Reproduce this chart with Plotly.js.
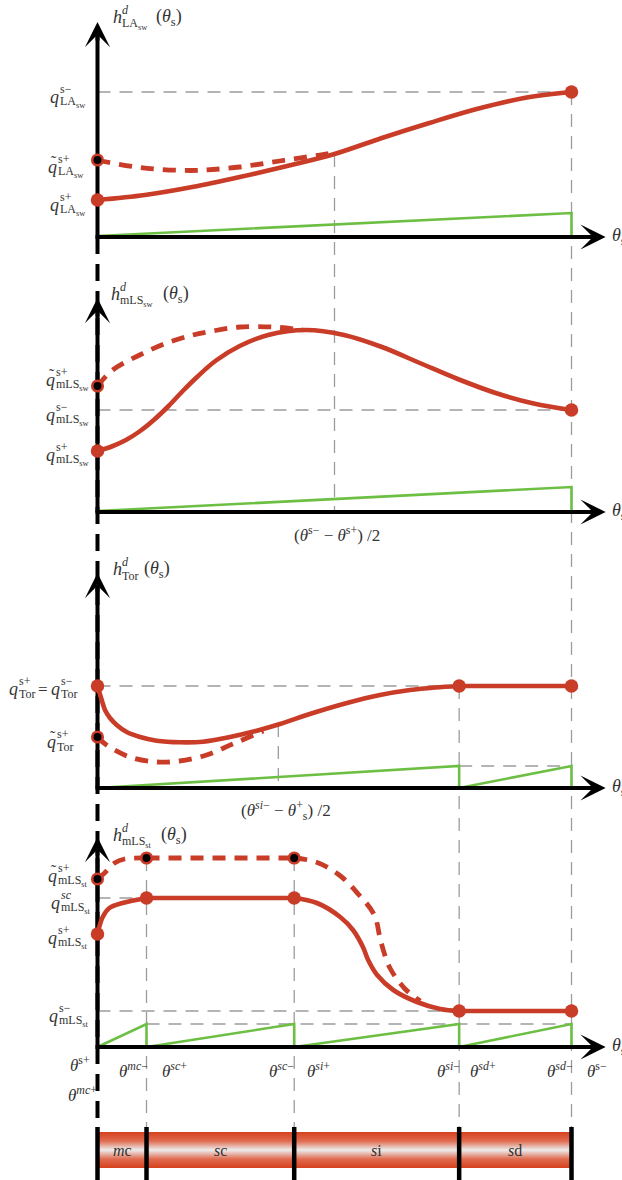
<!DOCTYPE html>
<html>
<head>
<meta charset="utf-8">
<script src="https://cdn.plot.ly/plotly-3.0.1.min.js"></script>
<style>
html,body{margin:0;padding:0;background:#fff;}
#chart{width:622px;height:1180px;}
</style>
</head>
<body>
<div id="chart"></div>
<script>
// ===================== DATA =====================
// normalised phase angle: θ^{s+}=0 ... θ^{s-}=1
const thetaBreaks = [0, 0.1034, 0.415, 0.763, 1.0];      // θ^{s+}, θ^{mc-}, θ^{sc-}, θ^{si-}, θ^{sd-}=θ^{s-}
const phaseNames  = ['mc', 'sc', 'si', 'sd'];

// Panel 1 : h^d_LA_sw
const laLevels  = [1.45, 0.77, 0.37];                    // q^{s-}, q~^{s+}, q^{s+}
const laSolidT  = [0, 0.1, 0.2, 0.3, 0.4, 0.5, 0.6, 0.7, 0.8, 0.9, 1.0];
const laSolidV  = [0.37, 0.42, 0.50, 0.60, 0.71, 0.83, 0.99, 1.14, 1.28, 1.39, 1.45];
const laDashT   = [0, 0.025, 0.082, 0.137, 0.195, 0.243, 0.300, 0.357, 0.412, 0.469, 0.49];
const laDashV   = [0.77, 0.745, 0.70, 0.675, 0.665, 0.675, 0.70, 0.74, 0.78, 0.82, 0.835];
const laGreenT  = [0, 1, 1];
const laGreenV  = [0.01, 0.24, 0];
const laMid     = [0.5, 0.83];                            // (θs- − θs+)/2 and curve value there

// Panel 2 : h^d_mLS_sw
const swLevels  = [1.26, 1.02, 0.61];                    // q~^{s+}, q^{s-}, q^{s+}
const swSolidT  = [0, 0.03, 0.06, 0.09, 0.12, 0.15, 0.18, 0.21, 0.25, 0.30, 0.36, 0.44, 0.52, 0.60, 0.68, 0.76, 0.84, 0.92, 1.0];
const swSolidV  = [0.61, 0.655, 0.72, 0.81, 0.925, 1.06, 1.21, 1.35, 1.515, 1.66, 1.77, 1.82, 1.77, 1.65, 1.49, 1.33, 1.19, 1.085, 1.02];
const swDashT   = [0, 0.032, 0.089, 0.146, 0.201, 0.243, 0.300, 0.370, 0.433];
const swDashV   = [1.26, 1.42, 1.57, 1.69, 1.77, 1.81, 1.85, 1.85, 1.82];
const swGreenT  = [0, 1, 1];
const swGreenV  = [0.01, 0.25, 0];

// Panel 3 : h^d_Tor
const torLevels = [1.02, 0.51];                          // q^{s+}=q^{s-}, q~^{s+}
const torSolidT = [0, 0.0089, 0.0158, 0.0264, 0.0405, 0.0616, 0.0897, 0.1249, 0.174, 0.2226, 0.2795, 0.336, 0.385, 0.4546, 0.5264, 0.596, 0.6593, 0.712, 0.763];
const torSolidV = [1.02, 0.88, 0.78, 0.70, 0.63, 0.56, 0.51, 0.473, 0.457, 0.463, 0.51, 0.573, 0.64, 0.75, 0.85, 0.93, 0.98, 1.005, 1.02];
const torDashT  = [0, 0.019, 0.068, 0.125, 0.173, 0.230, 0.285, 0.35];
const torDashV  = [0.51, 0.43, 0.31, 0.26, 0.27, 0.33, 0.44, 0.57];
const torGreenT = [0, 0.763, 0.763, 1, 1];
const torGreenV = [0, 0.22, 0, 0.22, 0];
const torMid    = [0.3815, 0.64];                        // (θsi- − θs+)/2 and curve value there

// Panel 4 : h^d_mLS_st
const stLevels  = [1.68, 1.89, 1.49, 1.13, 0.36];        // q~^{s+}, dashed plateau, q^{sc}, q^{s+}, q^{s-}
const stRiseT   = [0, 0.011, 0.025, 0.053, 0.1034];
const stRiseV   = [1.13, 1.30, 1.39, 1.44, 1.49];
const stDescT   = [0.415, 0.463, 0.512, 0.539, 0.560, 0.571, 0.590, 0.624, 0.674, 0.723, 0.763];
const stDescV   = [1.49, 1.44, 1.30, 1.17, 1.00, 0.87, 0.72, 0.57, 0.45, 0.38, 0.36];
const stDRiseT  = [0, 0.015, 0.036, 0.057, 0.1034];
const stDRiseV  = [1.68, 1.74, 1.84, 1.88, 1.89];
const stDDescT  = [0.415, 0.461, 0.510, 0.550, 0.584, 0.598, 0.617, 0.649, 0.681];
const stDDescV  = [1.89, 1.85, 1.72, 1.53, 1.32, 1.05, 0.79, 0.58, 0.46];
const stGreenT  = [0, 0.1034, 0.1034, 0.415, 0.415, 0.763, 0.763, 1, 1];
const stGreenV  = [0, 0.23, 0, 0.23, 0, 0.23, 0, 0.23, 0];

// ===================== LAYOUT CONSTANTS =====================
const X0 = 97.5, PXU = 474;               // pixel of θ=0 and px per θ unit
const panelBase = [9.43, 6.68, 3.92, 1.33];
const axisTop   = [2.15, 2.14, 2.15, 2.10];
const axisRight = 1.072;
const barY = [0.12, 0.48], dividerY = [0, 0.53], guideBottom = 0.50;

const RED = '#c93c27', GREEN = '#6dbf44', GREY = '#9c9c9c', BLACK = '#000';
const FONT = 'Liberation Serif', TXT = '#333333';
const xd = px => (px - X0) / PXU;
const yd = py => (1180 - py) / 100;

// ===================== TRACES =====================
const traces = [];
function L(t, v, b, color, width, dash, shape) {
  traces.push({type:'scatter', mode:'lines', x:t, y:v.map(u => u + b),
    line:{color, width, dash: dash || 'solid', shape: shape || 'linear', smoothing: 1},
    hoverinfo:'skip', showlegend:false});
}
const gd = '13px,9px';
// --- grey guides
// panel 1
L([0, 1], [laLevels[0], laLevels[0]], panelBase[0], GREY, 1.3, gd);
L([1, 1], [panelBase[0] + laLevels[0], guideBottom], 0, GREY, 1.3, gd);
L([laMid[0], laMid[0]], [panelBase[0] + laMid[1], panelBase[1]], 0, GREY, 1.3, gd);
// panel 2
L([0, 1], [swLevels[1], swLevels[1]], panelBase[1], GREY, 1.3, gd);
// panel 3
L([0, thetaBreaks[3]], [torLevels[0], torLevels[0]], panelBase[2], GREY, 1.3, gd);
L([thetaBreaks[3], 1], [torGreenV[1], torGreenV[1]], panelBase[2], GREY, 1.3, gd);
L([torMid[0], torMid[0]], [torMid[1], 0], panelBase[2], GREY, 1.3, gd);
L([thetaBreaks[3], thetaBreaks[3]], [panelBase[2] + torLevels[0], guideBottom], 0, GREY, 1.3, gd);
// panel 4
L([0, thetaBreaks[1]], [stLevels[2], stLevels[2]], panelBase[3], GREY, 1.3, gd);
L([0, thetaBreaks[3]], [stLevels[4], stLevels[4]], panelBase[3], GREY, 1.3, gd);
L([thetaBreaks[1], 1], [stGreenV[1], stGreenV[1]], panelBase[3], GREY, 1.3, gd);
[1, 2].forEach(i => L([thetaBreaks[i], thetaBreaks[i]], [panelBase[3] + stLevels[1], guideBottom], 0, GREY, 1.3, gd));

// --- phase bar with vertical gradient
traces.push({type:'scatter', mode:'lines', x:[0, 1, 1, 0, 0],
  y:[barY[0], barY[0], barY[1], barY[1], barY[0]], fill:'toself', fillcolor:'#e07058',
  fillgradient:{type:'vertical', start:barY[0], stop:barY[1],
    colorscale:[[0, '#d6401d'], [0.25, '#e06b50'], [0.5, '#ececec'], [0.75, '#e06b50'], [1, '#d6401d']]},
  line:{width:0}, hoverinfo:'skip', showlegend:false});
thetaBreaks.forEach(t => L([t, t], dividerY, 0, BLACK, 4.5));

// --- black dashed continuation of the θ=0 axis
L([0, 0], [panelBase[0], dividerY[1]], 0, BLACK, 4, '17px,10px');

// --- green lines
L(laGreenT, laGreenV, panelBase[0], GREEN, 2.6);
L(swGreenT, swGreenV, panelBase[1], GREEN, 2.6);
L(torGreenT, torGreenV, panelBase[2], GREEN, 2.6);
L(stGreenT, stGreenV, panelBase[3], GREEN, 2.6);

// --- axes lines
panelBase.forEach((b, i) => {
  L([xd(X0 - 2), axisRight - 0.03], [0, 0], b, BLACK, 4);
  L([0, 0], [0, axisTop[i] - 0.14], b, BLACK, 4);
});

// --- red dashed
const rd = '13px,9px';
L(laDashT, laDashV, panelBase[0], RED, 4.8, rd, 'spline');
L(swDashT, swDashV, panelBase[1], RED, 4.8, rd, 'spline');
L(torDashT, torDashV, panelBase[2], RED, 4.8, rd, 'spline');
L(stDRiseT, stDRiseV, panelBase[3], RED, 4.8, rd, 'spline');
L([thetaBreaks[1], thetaBreaks[2]], [stLevels[1], stLevels[1]], panelBase[3], RED, 4.8, rd);
L(stDDescT, stDDescV, panelBase[3], RED, 4.8, rd, 'spline');

// --- red solid
L(laSolidT, laSolidV, panelBase[0], RED, 4.6, null, 'spline');
L(swSolidT, swSolidV, panelBase[1], RED, 4.6, null, 'spline');
L(torSolidT, torSolidV, panelBase[2], RED, 4.6, null, 'spline');
L([thetaBreaks[3], 1], [torLevels[0], torLevels[0]], panelBase[2], RED, 4.6);
L(stRiseT, stRiseV, panelBase[3], RED, 4.6, null, 'spline');
L([thetaBreaks[1], thetaBreaks[2]], [stLevels[2], stLevels[2]], panelBase[3], RED, 4.6);
L(stDescT, stDescV, panelBase[3], RED, 4.6, null, 'spline');
L([thetaBreaks[3], 1], [stLevels[4], stLevels[4]], panelBase[3], RED, 4.6);

// --- dots
const solidDots = [
  [0, laLevels[2], 0], [1, laLevels[0], 0],
  [0, swLevels[2], 1], [1, swLevels[1], 1],
  [0, torLevels[0], 2], [thetaBreaks[3], torLevels[0], 2], [1, torLevels[0], 2],
  [0, stLevels[3], 3], [thetaBreaks[1], stLevels[2], 3], [thetaBreaks[2], stLevels[2], 3],
  [thetaBreaks[3], stLevels[4], 3], [1, stLevels[4], 3]
];
const ringDots = [
  [0, laLevels[1], 0], [0, swLevels[0], 1], [0, torLevels[1], 2],
  [0, stLevels[0], 3], [thetaBreaks[1], stLevels[1], 3], [thetaBreaks[2], stLevels[1], 3]
];
traces.push({type:'scatter', mode:'markers', x:solidDots.map(d => d[0]),
  y:solidDots.map(d => d[1] + panelBase[d[2]]),
  marker:{size:13.5, color:RED, line:{width:0}}, hoverinfo:'skip', showlegend:false});
traces.push({type:'scatter', mode:'markers', x:ringDots.map(d => d[0]),
  y:ringDots.map(d => d[1] + panelBase[d[2]]),
  marker:{size:10.5, color:'#000', line:{width:2.6, color:RED}}, hoverinfo:'skip', showlegend:false});

// ===================== TEXT =====================
const ann = [];
function T(xpx, ypx, text, size, xanchor) {
  ann.push({xref:'x', yref:'y', x:xd(xpx), y:yd(ypx), text, showarrow:false,
    xanchor:xanchor || 'left', yanchor:'middle', borderpad:0,
    font:{family:FONT, size, color:TXT}});
}
function qLab(qx, c, sup, sub, tilde) {
  T(qx, c + 1.5, '<i>q</i>', 18);
  if (tilde) T(qx + 2.5, c - 4, '˜', 16);
  T(qx + 10, c - 6.5, sup, 12);
  T(qx + 10, c + 6.5, sub, 12);
}
function hTitle(hx, hy, sub, px) {
  T(hx, hy, '<i>h</i>', 18);
  T(hx + 9, hy - 7, '<i>d</i>', 12);
  T(hx + 9, hy + 7, sub, 12);
  T(px, hy, '(<i>θ</i><sub>s</sub>)', 18);
}
const LAsw = 'LA<sub>sw</sub>', mLSsw = 'mLS<sub>sw</sub>', mLSst = 'mLS<sub>st</sub>';
// panel 1
hTitle(112, 17, LAsw, 155);
qLab(49, 95.5, 's−', LAsw);
qLab(47, 165, 's+', LAsw, true);
qLab(49, 203, 's+', LAsw);
// panel 2
hTitle(110, 294, mLSsw, 162);
qLab(45, 378.5, 's+', mLSsw, true);
qLab(45, 413, 's−', mLSsw);
qLab(45, 453, 's+', mLSsw);
T(293, 534, '(<i>θ</i><sup>s−</sup> − <i>θ</i><sup>s+</sup>) /2', 17);
// panel 3
hTitle(112, 569, 'Tor', 143);
T(8, 689, '<i>q</i>', 18); T(18, 681, 's+', 12); T(18, 694, 'Tor', 12);
T(37, 689, '=', 17);
T(50, 689, '<i>q</i>', 18); T(60, 681, 's−', 12); T(60, 694, 'Tor', 12);
qLab(46, 740, 's+', 'Tor', true);
T(240, 810, '(<i>θ</i><sup><i>si</i>−</sup> − <i>θ</i><sup>+</sup><sub>s</sub>) /2', 17);
// panel 4
hTitle(112, 835, mLSst, 160);
qLab(47, 874.5, 's+', mLSst, true);
qLab(50, 901, '<i>sc</i>', mLSst);
qLab(47, 936.5, 's+', mLSst);
qLab(48, 1014, 's−', mLSst);
// axis labels θs
panelBase.forEach(b => T(611, 1180 - 100 * b - 1, '<i>θ</i><sub>s</sub>', 18));
// bottom tick labels
T(91, 1064, '<i>θ</i><sup>s+</sup>', 17, 'right');
T(98, 1094, '<i>θ</i><sup><i>mc</i>+</sup>', 17, 'right');
T(149, 1070, '<i>θ</i><sup><i>mc</i>−</sup>', 17, 'right');
T(161, 1070, '<i>θ</i><sup><i>sc</i>+</sup>', 17);
T(295, 1070, '<i>θ</i><sup><i>sc</i>−</sup>', 17, 'right');
T(306, 1070, '<i>θ</i><sup><i>si</i>+</sup>', 17);
T(461, 1070, '<i>θ</i><sup><i>si</i>−</sup>', 17, 'right');
T(469, 1070, '<i>θ</i><sup><i>sd</i>+</sup>', 17);
T(574, 1070, '<i>θ</i><sup><i>sd</i>−</sup>', 17, 'right');
T(586, 1070, '<i>θ</i><sup>s−</sup>', 17);
// phase labels inside bar
phaseNames.forEach((n, i) => {
  ann.push({xref:'x', yref:'y', x:(thetaBreaks[i] + thetaBreaks[i + 1]) / 2, y:(barY[0] + barY[1]) / 2,
    text:'<i>' + n[0] + '</i>' + n.slice(1), showarrow:false, xanchor:'center', yanchor:'middle',
    font:{family:FONT, size:16, color:'#333'}});
});
// arrow heads
panelBase.forEach((b, i) => {
  ann.push({xref:'x', yref:'y', x:0, y:b + axisTop[i], ax:0, ay:20, text:'', showarrow:true,
    arrowhead:3, arrowwidth:4, arrowsize:1.05, arrowcolor:BLACK, standoff:0});
  ann.push({xref:'x', yref:'y', x:axisRight, y:b, ax:-20, ay:0, text:'', showarrow:true,
    arrowhead:3, arrowwidth:4, arrowsize:1.05, arrowcolor:BLACK, standoff:0});
});

const layout = {
  width:622, height:1180, margin:{l:0, r:0, t:0, b:0},
  paper_bgcolor:'#fff', plot_bgcolor:'#fff', showlegend:false, hovermode:false,
  xaxis:{range:[xd(0), xd(622)], visible:false, fixedrange:true},
  yaxis:{range:[0, 11.8], visible:false, fixedrange:true},
  annotations:ann
};
Plotly.newPlot('chart', traces, layout, {staticPlot:true, displayModeBar:false});
</script>
</body>
</html>
